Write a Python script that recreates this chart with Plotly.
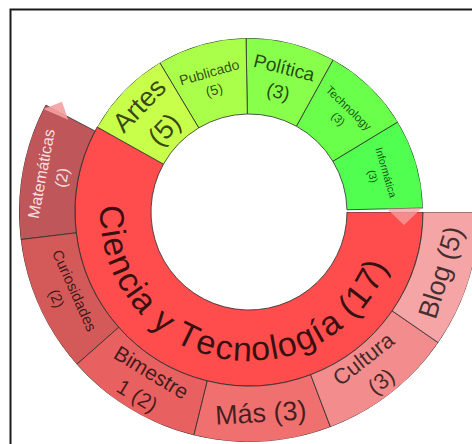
import math
import plotly.graph_objects as go

# ---------------- data (ordered counter-clockwise from 3 o'clock) ----------------
top_labels = ["Informática", "Technology", "Política", "Publicado", "Artes", "Ciencia y Tecnología"]
top_counts = [3, 3, 3, 5, 5, 17]
child_parent = "Ciencia y Tecnología"
child_labels = ["Matemáticas", "Curiosidades", "Bimestre 1", "Más", "Cultura", "Blog"]
child_counts = [2, 2, 2, 3, 3, 5]

# ---------------- styles ----------------
top_colors = ["#50FF50", "#69FF4B", "#87FF4B", "#AAFF4B", "#C8FF4A", "#FF4C4C"]
child_colors = ["#BE565A", "#D45A5A", "#E86060", "#F07070", "#F38C8C", "#F5A5A5"]
top_font = [10.5, 11.5, 19, 14, 27, 34]
top_break = [1, 1, 1, 1, 1, 0]
child_font = [16, 15, 21, 27, 22, 27]
child_break = [1, 1, 1, 0, 1, 0]
child_text_color = ["rgba(255,238,238,0.92)"] + ["rgba(0,0,0,0.72)"] * 5
TEXT_DARK = "rgba(0,0,0,0.72)"
EDGE = "rgba(45,45,45,0.8)"
FONT = "Liberation Sans, Arial, Helvetica, sans-serif"

W, H = 480, 444            # page is 472 wide; the ring is clipped on the right like the original
CX, CY = 249, 212          # centre of the rings in pixels
R_HOLE, R_MID, R_OUT = 98, 174, 230
START = 1.3                # first sector starts just above 3 o'clock
CHILD_OFFSET = 1.5         # outer ring starts slightly after its parent

# angular share: leaves get one unit, a parent gets one unit per child plus one
share = [1 + (len(child_labels) if lab == child_parent else 0) for lab in top_labels]
unit = (360 - START) / sum(share)
top_start, top_span = [], []
acc = START
for s in share:
    top_start.append(acc)
    top_span.append(s * unit)
    acc += s * unit
top_mid = [a + s / 2 for a, s in zip(top_start, top_span)]

pi = top_labels.index(child_parent)
c0 = top_start[pi] + CHILD_OFFSET
c_span = (top_start[pi] + top_span[pi] - c0) / len(child_labels)
child_mid = [c0 + c_span * (i + 0.5) for i in range(len(child_labels))]


def pol2paper(r, deg):
    a = math.radians(deg)
    return (CX + r * math.cos(a)) / W, 1 - (CY - r * math.sin(a)) / H


def sector_bbox(s0, s1):
    angs = [s0, s1] + [k * 90 for k in range(-4, 9) if s0 <= k * 90 <= s1]
    xs = [0.0] + [math.cos(math.radians(a)) for a in angs]
    ys = [0.0] + [math.sin(math.radians(a)) for a in angs]
    return min(xs), min(ys), max(xs), max(ys)


def polar_domain(sector, R):
    x0, y0, x1, y1 = sector_bbox(*sector)
    return dict(x=[(CX + x0 * R) / W, (CX + x1 * R) / W],
                y=[1 - (CY - y0 * R) / H, 1 - (CY - y1 * R) / H])


def tangential_angle(deg):
    deg = deg % 360
    t = 90 - deg if 0 <= deg <= 180 else -(deg + 90)
    return ((t + 180) % 360) - 180


def make_label(name, count, brk):
    words = f"{name} ({count})".split(" ")
    if brk:
        return " ".join(words[:brk]) + "<br>" + " ".join(words[brk:])
    return " ".join(words)


fig = go.Figure()

# parent + outer ring (lower/left part) in polar A
leaf_idx = [i for i in range(len(top_labels)) if i != pi]
fig.add_trace(go.Barpolar(
    subplot="polar",
    theta=[top_mid[pi]] + child_mid,
    width=[top_span[pi]] + [c_span] * len(child_labels),
    base=[R_HOLE] + [R_MID] * len(child_labels),
    r=[R_MID - R_HOLE] + [R_OUT - R_MID] * len(child_labels),
    marker=dict(color=[top_colors[pi]] + child_colors, line=dict(color=EDGE, width=1)),
    hoverinfo="skip",
))
# leaf sectors of the inner ring in polar B
fig.add_trace(go.Barpolar(
    subplot="polar2",
    theta=[top_mid[i] for i in leaf_idx],
    width=[top_span[i] for i in leaf_idx],
    base=[R_HOLE] * len(leaf_idx),
    r=[R_MID - R_HOLE] * len(leaf_idx),
    marker=dict(color=[top_colors[i] for i in leaf_idx], line=dict(color=EDGE, width=1)),
    hoverinfo="skip",
))

sectorA = [150, 360]
sectorB = [0, 152]
axis_off = dict(visible=False)
fig.update_layout(
    width=W, height=H,
    margin=dict(l=0, r=0, t=0, b=0),
    paper_bgcolor="white",
    showlegend=False,
    polar=dict(domain=polar_domain(sectorA, R_OUT), sector=sectorA, hole=0,
               bgcolor="rgba(0,0,0,0)",
               radialaxis=dict(visible=False, range=[0, R_OUT]),
               angularaxis=dict(visible=False, rotation=0, direction="counterclockwise")),
    polar2=dict(domain=polar_domain(sectorB, R_MID), sector=sectorB, hole=0,
                bgcolor="rgba(0,0,0,0)",
                radialaxis=dict(visible=False, range=[0, R_MID]),
                angularaxis=dict(visible=False, rotation=0, direction="counterclockwise")),
)

annotations = []
r1_mid = (R_HOLE + R_MID) / 2
r2_mid = (R_MID + R_OUT) / 2 - 1

# straight labels of inner-ring leaves
for i in leaf_idx:
    x, y = pol2paper(r1_mid, top_mid[i])
    annotations.append(dict(x=x, y=y, xref="paper", yref="paper", showarrow=False,
                            text=make_label(top_labels[i], top_counts[i], top_break[i]),
                            textangle=tangential_angle(top_mid[i]),
                            font=dict(family=FONT, size=top_font[i], color=TEXT_DARK),
                            xanchor="center", yanchor="middle"))
# outer ring labels
for i, lab in enumerate(child_labels):
    x, y = pol2paper(r2_mid, child_mid[i])
    annotations.append(dict(x=x, y=y, xref="paper", yref="paper", showarrow=False,
                            text=make_label(lab, child_counts[i], child_break[i]),
                            textangle=tangential_angle(child_mid[i]),
                            font=dict(family=FONT, size=child_font[i], color=child_text_color[i]),
                            xanchor="center", yanchor="middle"))

# curved parent label, one glyph at a time along the arc
ARIAL = {"C": 722, "i": 222, "e": 556, "n": 556, "c": 500, "a": 556, " ": 278, "y": 500,
         "T": 611, "o": 556, "l": 222, "g": 556, "í": 278, "(": 333, ")": 333,
         "1": 556, "7": 556}
curved = f"{top_labels[pi]} ({top_counts[pi]})"
F = top_font[pi]
R_TXT = 137
THETA_C = 258
adv = [ARIAL.get(ch, 556) * F / 1000 for ch in curved]
s = -sum(adv) / 2
for ch, w in zip(curved, adv):
    sc = s + w / 2
    s += w
    if ch == " ":
        continue
    th = THETA_C + math.degrees(sc / R_TXT)
    x, y = pol2paper(R_TXT, th)
    t = ((-(th + 90) + 180) % 360) - 180
    annotations.append(dict(x=x, y=y, xref="paper", yref="paper", showarrow=False,
                            text=ch, textangle=t,
                            font=dict(family=FONT, size=F, color="rgba(0,0,0,0.8)"),
                            xanchor="center", yanchor="middle", borderpad=0))

fig.update_layout(annotations=annotations)


def poly_path(pts):
    p = [pol2paper(r, a) for r, a in pts]
    return "M " + " L ".join(f"{x:.5f},{y:.5f}" for x, y in p) + " Z"


shapes = [
    # frame
    dict(type="rect", xref="paper", yref="paper", x0=10.5 / W, x1=1.2, y0=-0.2, y1=1 - 9.5 / H,
         line=dict(color="#1a1a1a", width=2), fillcolor="rgba(0,0,0,0)", layer="below"),
    # pink markers at the ends of the rings
    dict(type="path", xref="paper", yref="paper",
         path=poly_path([(138, 1.3), (173, 1.3), (155.5, -4.8)]),
         fillcolor="rgba(245,160,160,0.75)", line=dict(width=0)),
    dict(type="path", xref="paper", yref="paper",
         path=poly_path([(230, 153.4), (217, 149.5), (203, 153.0)]),
         fillcolor="rgba(245,160,160,0.9)", line=dict(width=0)),
]
fig.update_layout(shapes=shapes)

fig.write_html("out.html", config={"displayModeBar": False},
               post_script="document.documentElement.style.overflow='hidden';"
                           "document.body.style.overflow='hidden';")
